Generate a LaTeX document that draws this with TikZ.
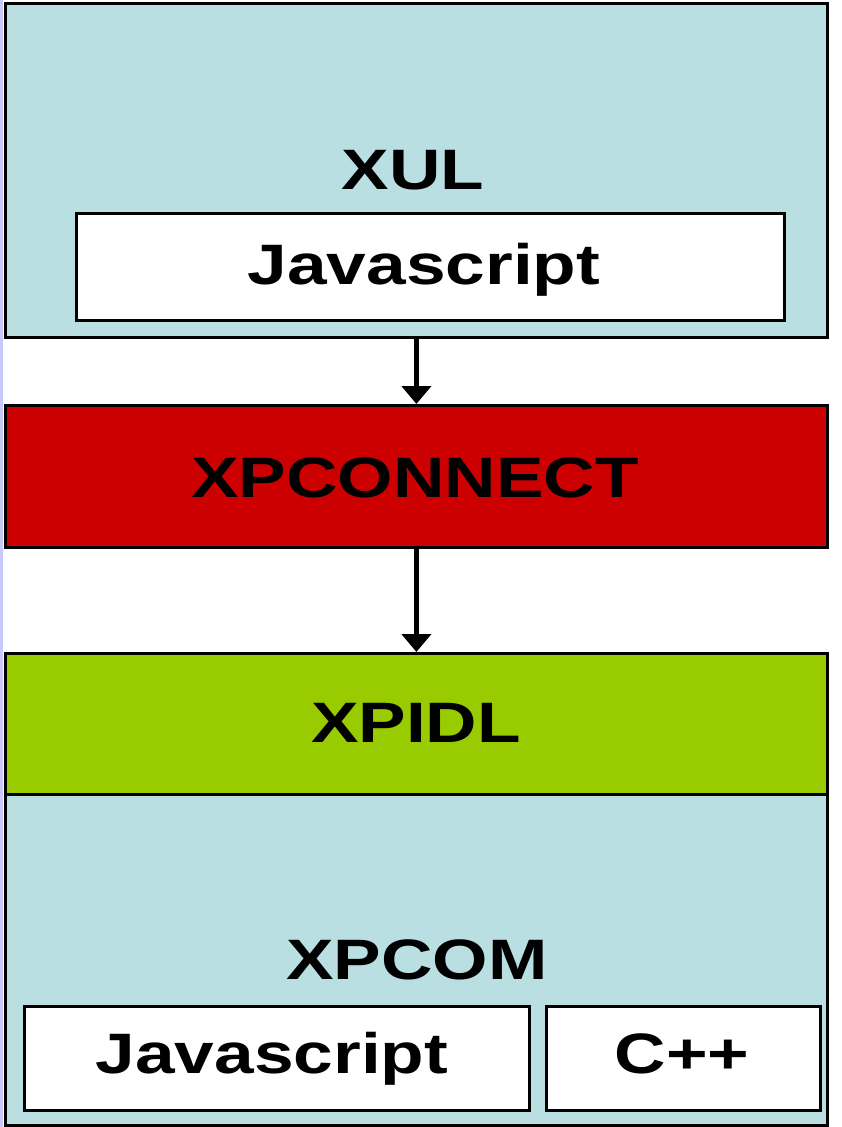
\documentclass[tikz,border=0pt]{standalone}
\usepackage{fontspec}
\setmainfont{Liberation Sans}
\usetikzlibrary{arrows.meta}
\definecolor{lblue}{RGB}{186,223,226}
\definecolor{xred}{RGB}{204,0,0}
\definecolor{xgreen}{RGB}{153,204,0}
\definecolor{lav}{RGB}{200,200,250}
\newcommand\wtxt[1]{\scalebox{1.25}[1]{#1}}
\begin{document}
\begin{tikzpicture}[x=1pt,y=-1pt,
  box/.style={draw=black,line width=2.8pt,inner sep=0pt,anchor=north west},
  lbl/.style={inner sep=0pt,anchor=base,font=\fontsize{57}{60}\selectfont\bfseries},
  conn/.style={line width=4.5pt,-{Triangle[width=29pt,length=18pt]}}]
\useasboundingbox (0,0) rectangle (842,1127);
\fill[white] (0,0) rectangle (842,1127);
\fill[lav] (0,0) rectangle (3,1127);
% boxes
\node[box,fill=lblue,minimum width=822pt,minimum height=334pt] (xul) at (4,2) {};
\node[box,fill=white,minimum width=708pt,minimum height=107pt] (js1) at (75,212) {};
\node[box,fill=xred,minimum width=822pt,minimum height=142pt] (xpc) at (4,404) {};
\node[box,fill=lblue,minimum width=822pt,minimum height=331pt] (xpcom) at (4,793) {};
\node[box,fill=xgreen,minimum width=822pt,minimum height=141pt] (xpidl) at (4,652) {};
\node[box,fill=white,minimum width=505pt,minimum height=104pt] (js2) at (23,1005) {};
\node[box,fill=white,minimum width=274pt,minimum height=104pt] (cpp) at (545,1005) {};
% labels
\node[lbl] (tXUL) at (413,189) {\wtxt{XUL}};
\node[lbl] (tJS1) at (424,284) {\wtxt{Javascript}};
\node[lbl] (tXPC) at (415,497) {\wtxt{XPCONNECT}};
\node[lbl] (tXPIDL) at (416,742) {\wtxt{XPIDL}};
\node[lbl] (tXPCOM) at (417,979) {\wtxt{XPCOM}};
\node[lbl] (tJS2) at (272,1073) {\wtxt{Javascript}};
\node[lbl] (tCPP) at (682,1073) {\wtxt{C++}};
% connectors
\draw[conn] (xul.south) -- (xpc.north);
\draw[conn] (xpc.south) -- (xpidl.north);
\end{tikzpicture}
\end{document}
